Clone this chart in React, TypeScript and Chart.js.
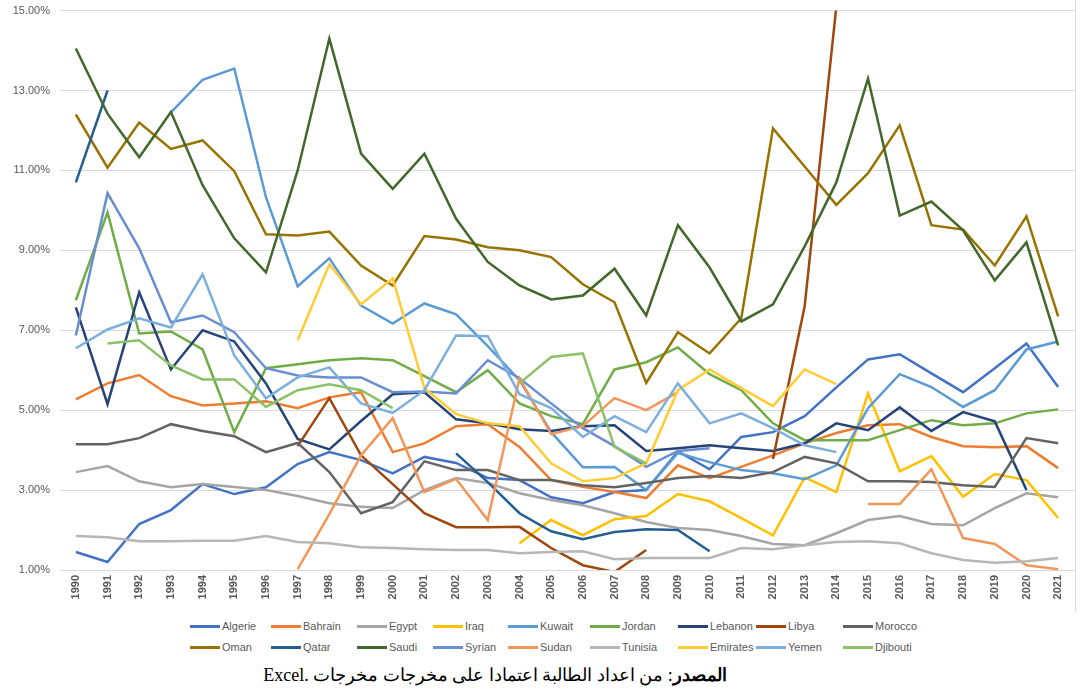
import React, { useEffect, useRef } from "react";
import { Chart, registerables } from "chart.js";

Chart.register(...registerables);

const years = [
  "1990", "1991", "1992", "1993", "1994", "1995", "1996", "1997", "1998", "1999",
  "2000", "2001", "2002", "2003", "2004", "2005", "2006", "2007", "2008", "2009",
  "2010", "2011", "2012", "2013", "2014", "2015", "2016", "2017", "2018", "2019",
  "2020", "2021",
];

const yTicks = [1, 3, 5, 7, 9, 11, 13, 15];

const algerie = [1.45, 1.2, 2.15, 2.5, 3.15, 2.9, 3.07, 3.65, 3.95, 3.75, 3.42, 3.83, 3.68, 3.3, 3.25, 2.82, 2.67, 2.95, 3.0, 3.97, 3.52, 4.33, 4.45, 4.85, 5.57, 6.27, 6.4, 5.92, 5.45, 6.05, 6.67, 5.58];
const bahrain = [5.27, 5.67, 5.88, 5.35, 5.12, 5.17, 5.22, 5.05, 5.32, 5.45, 3.95, 4.17, 4.6, 4.65, 4.08, 3.25, 3.08, 2.95, 2.8, 3.62, 3.3, 3.58, 3.87, 4.17, 4.43, 4.62, 4.65, 4.33, 4.1, 4.07, 4.1, 3.55];
const egypt = [3.45, 3.6, 3.22, 3.07, 3.15, 3.08, 3.0, 2.85, 2.67, 2.58, 2.55, 3.0, 3.3, 3.18, 2.92, 2.75, 2.62, 2.42, 2.2, 2.05, 2.0, 1.85, 1.65, 1.62, 1.92, 2.25, 2.35, 2.15, 2.12, 2.55, 2.92, 2.82];
const iraq = [null, null, null, null, null, null, null, null, null, null, null, null, null, null, 1.67, 2.25, 1.87, 2.27, 2.35, 2.9, 2.72, 2.3, 1.87, 3.32, 2.95, 5.42, 3.47, 3.85, 2.83, 3.4, 3.25, 2.3];
const kuwait = [null, null, null, 12.45, 13.27, 13.55, 10.33, 8.1, 8.8, 7.62, 7.17, 7.67, 7.4, 6.6, 5.75, 4.45, 3.57, 3.58, 3.0, 3.93, 3.7, 3.5, 3.42, 3.27, 3.62, 5.05, 5.9, 5.58, 5.08, 5.5, 6.52, 6.72];
const jordan = [7.75, 9.95, 6.92, 6.97, 6.52, 4.45, 6.05, 6.15, 6.25, 6.3, 6.25, 5.85, 5.45, 6.0, 5.17, 4.85, 4.65, 6.02, 6.2, 6.57, 5.9, 5.5, 4.67, 4.25, 4.25, 4.25, 4.5, 4.75, 4.62, 4.67, 4.92, 5.02];
const lebanon = [7.57, 5.15, 7.95, 6.02, 7.0, 6.72, 5.67, 4.28, 4.02, 4.73, 5.4, 5.45, 4.77, 4.67, 4.52, 4.48, 4.6, 4.62, 3.98, 4.05, 4.12, 4.05, 3.98, 4.17, 4.67, 4.5, 5.07, 4.48, 4.95, 4.72, 3.0, null];
const libya = [null, null, null, null, null, null, null, 4.1, 5.3, 3.87, 3.15, 2.42, 2.07, 2.07, 2.08, 1.55, 1.12, 0.95, 1.5, null, null, null, 3.78, 7.6, 15.1, null, null, null, null, null, null, null];
const morocco = [4.15, 4.15, 4.3, 4.65, 4.48, 4.35, 3.95, 4.18, 3.45, 2.42, 2.7, 3.72, 3.5, 3.5, 3.25, 3.25, 3.12, 3.07, 3.18, 3.3, 3.35, 3.3, 3.45, 3.83, 3.67, 3.22, 3.22, 3.2, 3.12, 3.08, 4.3, 4.17];
const oman = [12.4, 11.07, 12.2, 11.54, 11.75, 10.98, 9.4, 9.37, 9.47, 8.62, 8.12, 9.36, 9.27, 9.08, 9.0, 8.83, 8.15, 7.7, 5.68, 6.95, 6.42, 7.3, 12.05, 11.1, 10.14, 10.93, 12.13, 9.63, 9.52, 8.62, 9.85, 7.35];
const qatar = [10.7, 13.0, null, null, null, null, null, null, null, null, null, null, 3.92, 3.2, 2.42, 1.97, 1.77, 1.95, 2.02, 2.0, 1.47, null, null, null, null, null, null, null, null, null, null, null];
const saudi = [14.05, 12.42, 11.33, 12.46, 10.63, 9.3, 8.45, 11.0, 14.3, 11.42, 10.54, 11.42, 9.79, 8.71, 8.12, 7.77, 7.87, 8.54, 7.37, 9.63, 8.57, 7.22, 7.65, 9.1, 10.7, 13.3, 9.87, 10.22, 9.5, 8.25, 9.2, 6.62];
const syrian = [6.87, 10.43, 9.05, 7.2, 7.37, 6.95, 6.05, 5.87, 5.82, 5.82, 5.45, 5.47, 5.42, 6.25, 5.8, 5.17, 4.55, 4.1, 3.58, 3.98, 4.05, null, null, null, null, null, null, null, null, null, null, null];
const sudan = [null, null, null, null, null, null, null, 1.02, 2.4, 3.87, 4.8, 2.95, 3.28, 2.25, 5.8, 4.4, 4.6, 5.3, 5.0, 5.45, null, null, null, null, null, 2.65, 2.65, 3.52, 1.8, 1.65, 1.12, 1.02];
const tunisia = [1.85, 1.82, 1.72, 1.72, 1.73, 1.73, 1.85, 1.7, 1.67, 1.57, 1.55, 1.52, 1.5, 1.5, 1.42, 1.45, 1.47, 1.27, 1.3, 1.3, 1.3, 1.55, 1.52, 1.62, 1.7, 1.72, 1.67, 1.42, 1.25, 1.18, 1.22, 1.3];
const emirates = [null, null, null, null, null, null, null, 6.75, 8.65, 7.65, 8.3, 5.55, 4.9, 4.67, 4.6, 3.67, 3.22, 3.3, 3.67, 5.5, 6.02, 5.55, 5.1, 6.02, 5.65, null, null, null, null, null, null, null];
const yemen = [6.55, 7.02, 7.3, 7.07, 8.4, 6.37, 5.3, 5.82, 6.07, 5.17, 4.93, 5.5, 6.87, 6.85, 5.4, 5.05, 4.33, 4.85, 4.45, 5.67, 4.67, 4.92, 4.55, 4.12, 3.95, null, null, null, null, null, null, null];
const djibouti = [null, 6.67, 6.75, 6.12, 5.77, 5.77, 5.08, 5.5, 5.65, 5.5, 5.05, null, null, null, 5.67, 6.33, 6.42, 4.08, 3.67, null, null, null, null, null, null, null, null, null, null, null, null, null];

const seriesNames = [
  "Algerie", "Bahrain", "Egypt", "Iraq", "Kuwait", "Jordan", "Lebanon", "Libya", "Morocco",
  "Oman", "Qatar", "Saudi", "Syrian", "Sudan", "Tunisia", "Emirates", "Yemen", "Djibouti",
];
const seriesValues = [
  algerie, bahrain, egypt, iraq, kuwait, jordan, lebanon, libya, morocco,
  oman, qatar, saudi, syrian, sudan, tunisia, emirates, yemen, djibouti,
];
const seriesColors = [
  "#4472C4", "#ED7D31", "#A5A5A5", "#FFC000", "#5B9BD5", "#70AD47", "#264478", "#9E480E", "#636363",
  "#997300", "#255E91", "#43682B", "#698ED0", "#F1975A", "#B7B7B7", "#FFCD33", "#7CAFDD", "#8CC168",
];

const legendCols = [190, 271, 357, 433, 508, 590, 678, 756, 843];

export default function App() {
  const canvasRef = useRef<HTMLCanvasElement | null>(null);

  useEffect(() => {
    document.body.style.margin = "0";
    const canvas = canvasRef.current;
    if (!canvas) return;
    const n = seriesNames.length;
    const chart = new Chart(canvas, {
      type: "line",
      data: {
        labels: years,
        datasets: seriesNames.map((name, i) => ({
          label: name,
          data: seriesValues[i],
          borderColor: seriesColors[i],
          backgroundColor: seriesColors[i],
          borderWidth: 2.5,
          pointRadius: 0,
          pointHoverRadius: 0,
          tension: 0,
          spanGaps: false,
          fill: false,
          order: n - i,
        })),
      },
      options: {
        responsive: false,
        animation: false,
        layout: { padding: { top: 4, right: 16, left: 0, bottom: 0 } },
        plugins: { legend: { display: false }, tooltip: { enabled: false } },
        scales: {
          x: {
            type: "category",
            offset: true,
            grid: { display: false, drawTicks: false },
            border: { display: false },
            ticks: {
              autoSkip: false,
              minRotation: 90,
              maxRotation: 90,
              padding: 5,
              color: "#595959",
              font: { family: "'Liberation Sans', Arial, sans-serif", size: 11, weight: "bold" },
            },
            afterFit: (scale: any) => {
              scale.height = 45;
            },
          },
          y: {
            min: 1,
            max: 15,
            afterBuildTicks: (scale: any) => {
              scale.ticks = yTicks.map((v) => ({ value: v }));
            },
            ticks: {
              padding: 10,
              color: "#595959",
              font: { family: "'Liberation Sans', Arial, sans-serif", size: 11 },
              callback: (v: any) => Number(v).toFixed(2) + "%",
            },
            grid: { color: "#D9D9D9", lineWidth: 1, drawTicks: false },
            border: { display: false },
            afterFit: (scale: any) => {
              scale.width = 60;
            },
          },
        },
      },
    });
    return () => chart.destroy();
  }, []);

  return (
    <div style={{ position: "relative", width: 1090, height: 700, background: "#fff", overflow: "hidden" }}>
      <canvas ref={canvasRef} width={1090} height={621} style={{ position: "absolute", left: 0, top: -6 }} />
      <div style={{ position: "absolute", left: 1075, top: 0, width: 1, height: 612, background: "#D9D9D9" }} />
      {seriesNames.map((name, i) => {
        const row = Math.floor(i / 9);
        const col = i % 9;
        return (
          <div
            key={name}
            style={{
              position: "absolute",
              left: legendCols[col],
              top: 619 + row * 21,
              height: 14,
              display: "flex",
              alignItems: "center",
              whiteSpace: "nowrap",
              fontFamily: "'Liberation Sans Narrow', 'Arial Narrow', 'Liberation Sans', sans-serif",
              fontSize: 11,
              color: "#595959",
            }}
          >
            <span style={{ display: "inline-block", width: 30, height: 3, background: seriesColors[i], marginRight: 2 }} />
            <span>{name}</span>
          </div>
        );
      })}
      <div
        dir="rtl"
        style={{
          position: "absolute",
          left: 0,
          top: 664,
          width: 990,
          textAlign: "center",
          fontFamily: "'Liberation Serif', 'DejaVu Serif', serif",
          fontSize: 18,
          color: "#000",
        }}
      >
        <b>المصدر</b>: من اعداد الطالبة اعتمادا على مخرجات مخرجات <span dir="ltr">Excel.</span>
      </div>
    </div>
  );
}
